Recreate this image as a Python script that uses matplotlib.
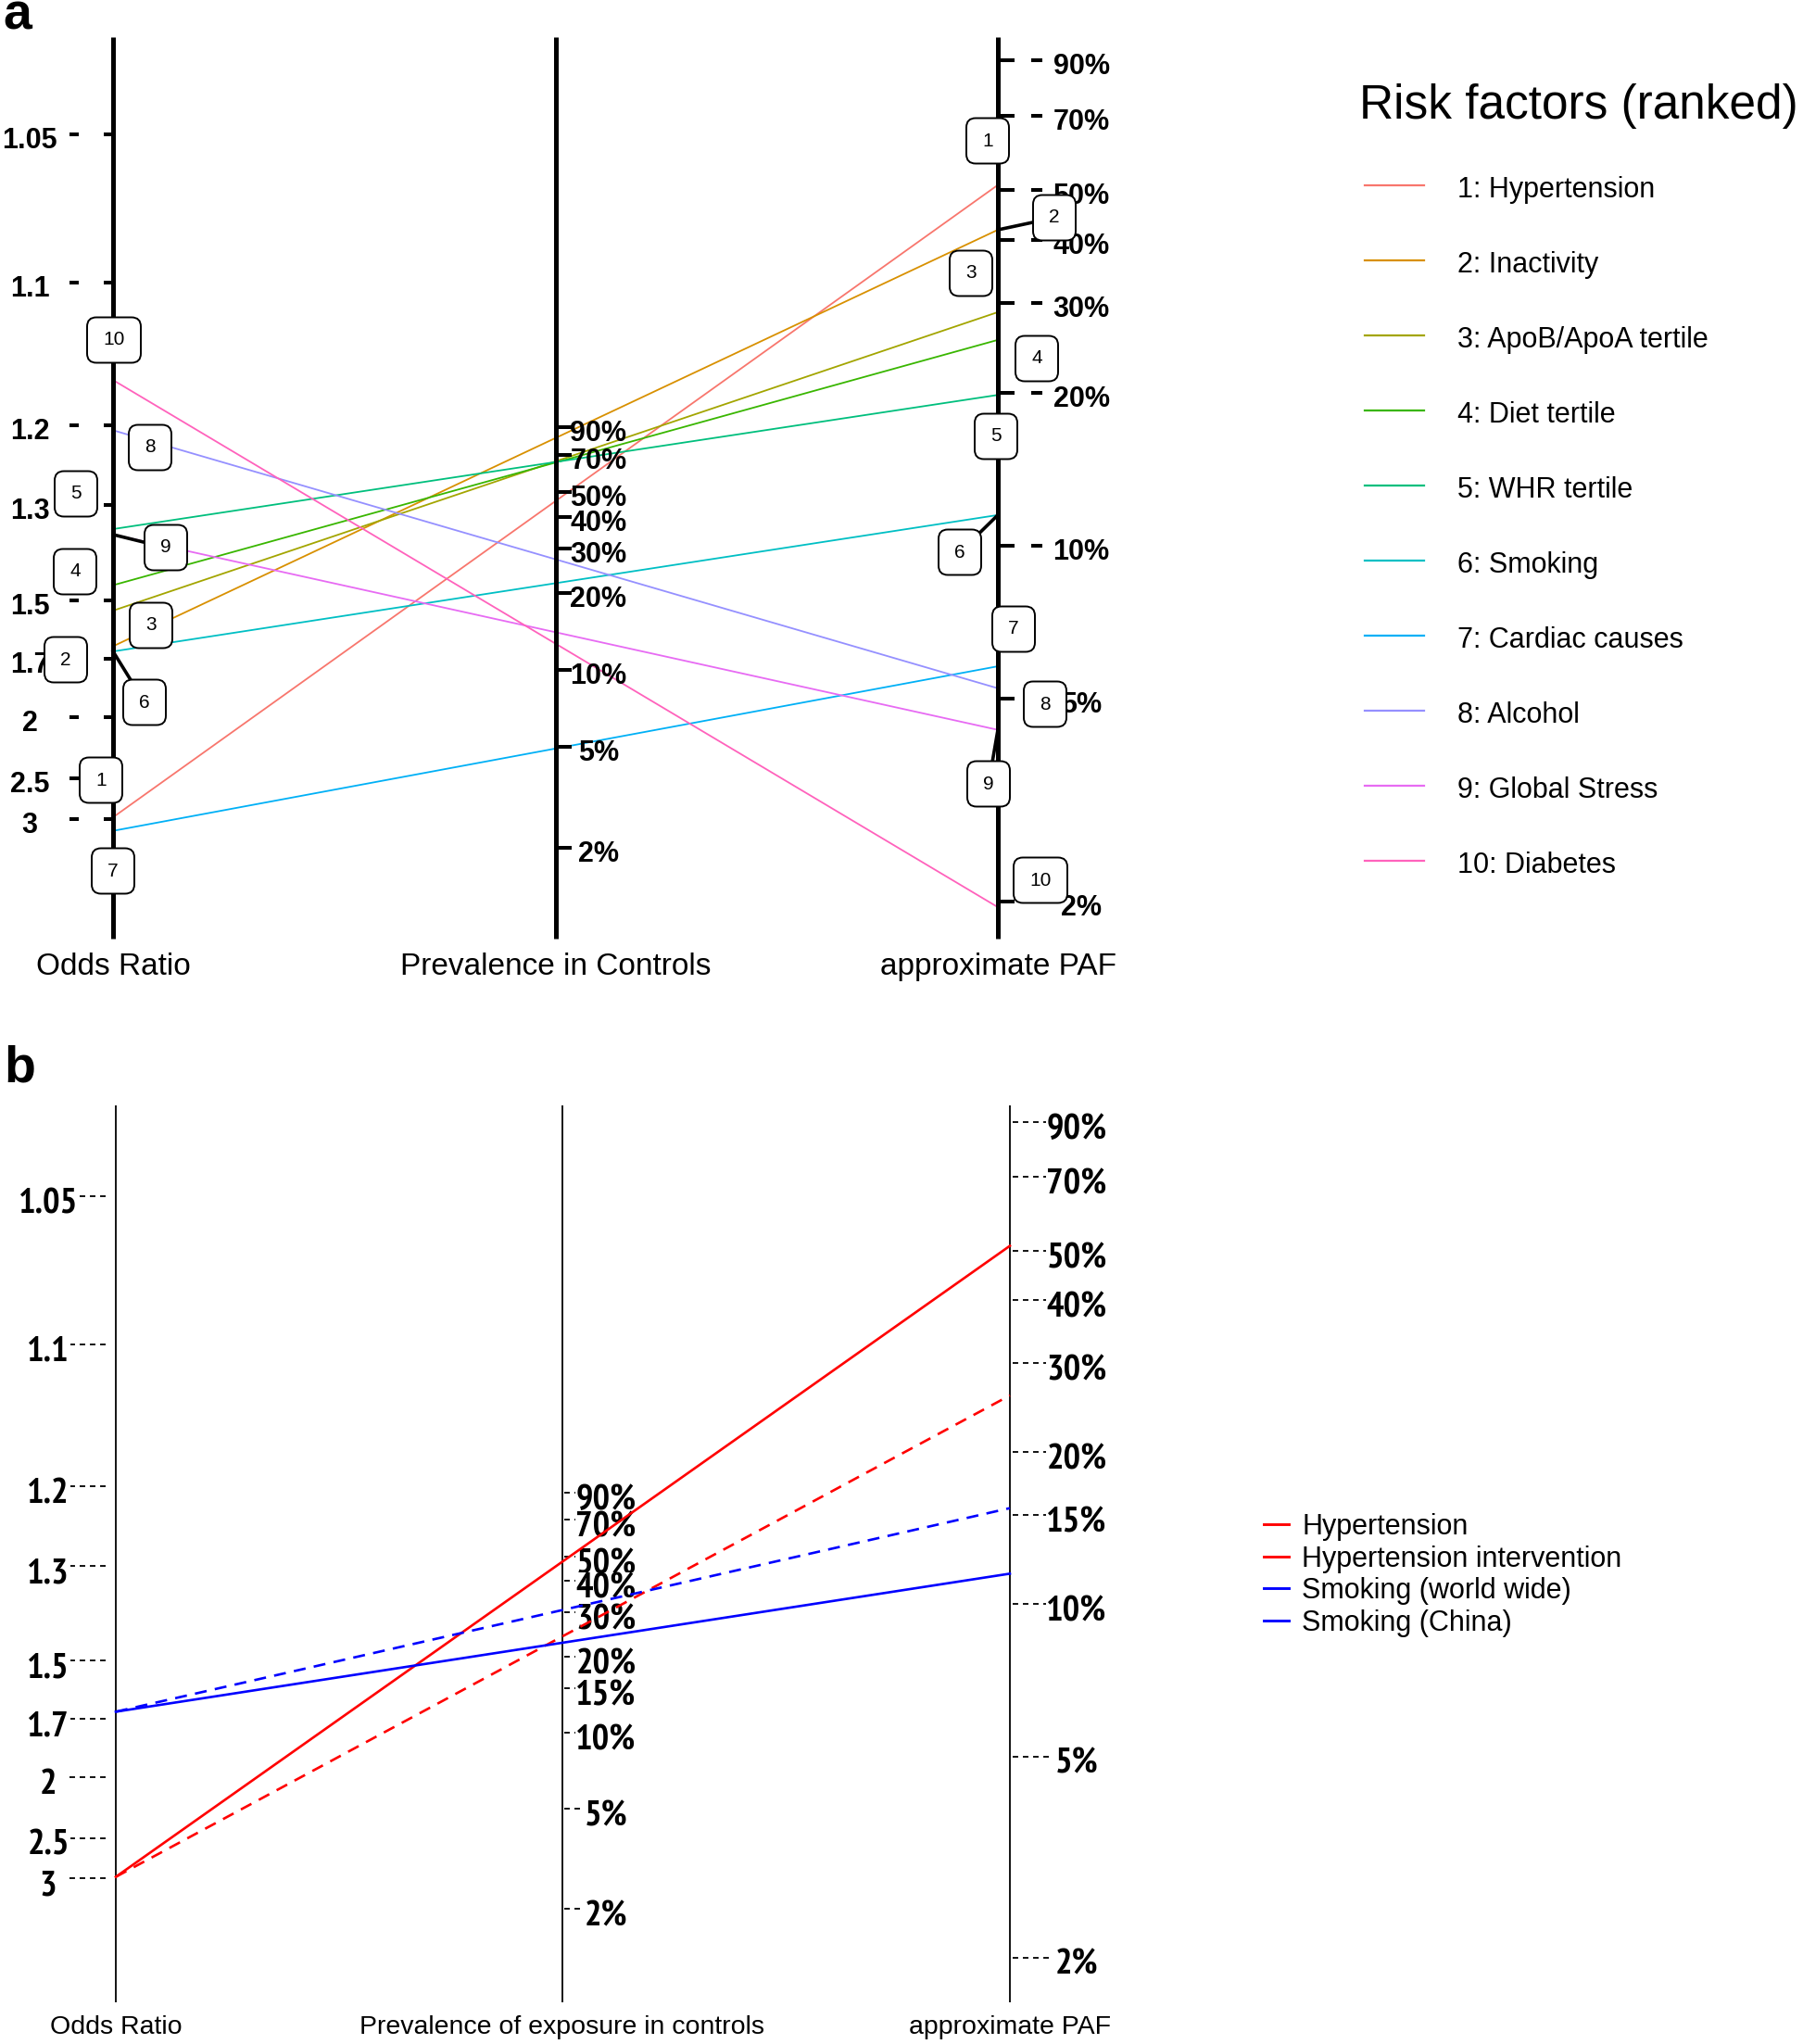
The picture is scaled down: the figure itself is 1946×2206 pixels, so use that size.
import numpy as np
import matplotlib
matplotlib.use("Agg")
import matplotlib.pyplot as plt
from matplotlib import font_manager
from matplotlib.patches import FancyBboxPatch

W, H = 1946, 2206

# ---- panel a: ranked risk factors
factors = ["Hypertension", "Inactivity", "ApoB/ApoA tertile", "Diet tertile",
           "WHR tertile", "Smoking", "Cardiac causes", "Alcohol",
           "Global Stress", "Diabetes"]
odds_ratio = [2.98, 1.65, 1.53, 1.46, 1.34, 1.67, 3.19, 1.205, 1.35, 1.16]
paf = [0.512, 0.418, 0.288, 0.254, 0.198, 0.115, 0.058, 0.0525, 0.0435, 0.0195]
colors = ["#F8766D", "#D89000", "#A3A500", "#39B600", "#00BF7D",
          "#00BFC4", "#00B0F6", "#9590FF", "#E76BF3", "#FF62BC"]

or_ticks = [1.05, 1.1, 1.2, 1.3, 1.5, 1.7, 2, 2.5, 3]
or_tick_labels = ["1.05", "1.1", "1.2", "1.3", "1.5", "1.7", "2", "2.5", "3"]
pct_ticks_a = [0.9, 0.7, 0.5, 0.4, 0.3, 0.2, 0.1, 0.05, 0.02]
pct_ticks_b = [0.9, 0.7, 0.5, 0.4, 0.3, 0.2, 0.15, 0.1, 0.05, 0.02]

# ---- panel b: scenarios
scenarios = ["Hypertension", "Hypertension intervention",
             "Smoking (world wide)", "Smoking (China)"]
scen_or = [2.98, 2.98, 1.67, 1.67]
scen_paf = [0.512, 0.259, 0.115, 0.155]
scen_color = ["#FF0000", "#FF0000", "#0000FF", "#0000FF"]
scen_dashed = [False, True, False, True]

# label box centres for panel a (layout, found by eye)
left_box = [(109, 842), (71, 712), (163, 675), (81, 617), (82, 533),
            (156, 758), (122, 940), (162, 483), (179, 591), (123, 367)]
right_box = [(1066, 152), (1138, 235), (1048, 295), (1119, 387), (1075, 471),
             (1036, 596), (1094, 679), (1128, 760), (1067, 846), (1123, 950)]
left_leader = [8, 5]
right_leader = [1, 5, 8]

# nomogram scales: (offset, pixels per log unit) for each panel
pa = dict(x=(122, 600, 1077), top=40, bottom=1013,
          orc=871.4, ors=240.3, pc=448.1, ps=119.4, fc=40.0, fs=238.5)
pb = dict(x=(125, 607, 1090), top=1193, bottom=2161,
          orc=2015.0, ors=239.3, pc=1598.2, ps=118.15, fc=1186.0, fs=236.9)


def or_y(v, p):
    v = np.asarray(v, dtype=float)
    return p["orc"] + p["ors"] * (np.log(v - 1) - 0.585 * np.log(v))


def prev_y(v, p):
    return p["pc"] - p["ps"] * np.log(np.asarray(v, dtype=float))


def paf_y(v, p):
    return p["fc"] - p["fs"] * np.log(np.asarray(v, dtype=float))


def pct(v):
    return "%g%%" % (v * 100)


def narrow_font():
    # a condensed bold face for the panel b tick labels, whatever is installed
    fonts = font_manager.fontManager.ttflist
    for f in fonts:
        if "Narrow" in f.name and f.weight in (700, "bold") and f.style == "normal":
            return font_manager.FontProperties(fname=f.fname, size=28)
    for f in fonts:
        if f.name == "DejaVu Sans" and "Condensed" in f.fname and "Bold" in f.fname \
                and "Oblique" not in f.fname:
            return font_manager.FontProperties(fname=f.fname, size=25)
    return font_manager.FontProperties(family="DejaVu Sans", weight="bold", size=23)


plt.rcParams["font.family"] = ["Liberation Sans", "DejaVu Sans"]

fig = plt.figure(figsize=(W / 100, H / 100), dpi=100)
ax = fig.add_axes([0, 0, 1, 1])
ax.set_xlim(0, W)
ax.set_ylim(H, 0)
ax.axis("off")

# ================= panel a =================
xl, xm, xr = pa["x"]
for x in pa["x"]:
    ax.plot([x, x], [pa["top"], pa["bottom"]], color="black", lw=3.6,
            solid_capstyle="butt", zorder=3)

tick_kw = dict(color="black", lw=2.9, solid_capstyle="butt", zorder=3)
lab_kw = dict(fontsize=22, fontweight="bold", va="baseline", ha="center", zorder=4)

for v, s in zip(or_ticks, or_tick_labels):
    y = or_y(v, pa)
    ax.plot([xl - 10, xl], [y, y], **tick_kw)
    ax.plot([xl - 47, xl - 37], [y, y], **tick_kw)
    ax.text(32, y + 15, s, **lab_kw)

for v in pct_ticks_a:
    y = prev_y(v, pa)
    ax.plot([xm, xm + 17], [y, y], **tick_kw)
    ax.text(xm + 46, y + 15, pct(v), **lab_kw)

for v in pct_ticks_a:
    y = paf_y(v, pa)
    ax.plot([xr, xr + 18], [y, y], **tick_kw)
    ax.plot([xr + 36, xr + 48], [y, y], **tick_kw)
    ax.text(xr + 90, y + 15, pct(v), **lab_kw)

yl = or_y(odds_ratio, pa)
yr = paf_y(paf, pa)
for i in range(len(factors)):
    ax.plot([xl, xr], [yl[i], yr[i]], color=colors[i], lw=1.3, zorder=2)


def label_box(cx, cy, s):
    w = 58 if len(s) > 1 else 46
    h = 49
    box = FancyBboxPatch((cx - w / 2, cy - h / 2), w, h,
                         boxstyle="round,pad=0,rounding_size=10",
                         fc="white", ec="black", lw=1.4, zorder=6)
    ax.add_patch(box)
    ax.text(cx, cy, s, ha="center", va="center", fontsize=15, zorder=7)


for i in left_leader:
    ax.plot([xl, left_box[i][0]], [yl[i], left_box[i][1]], color="black",
            lw=2.6, zorder=5)
for i in right_leader:
    ax.plot([xr, right_box[i][0]], [yr[i], right_box[i][1]], color="black",
            lw=2.6, zorder=5)
for i in range(len(factors)):
    label_box(left_box[i][0], left_box[i][1], str(i + 1))
    label_box(right_box[i][0], right_box[i][1], str(i + 1))

ax.text(xl, 1052, "Odds Ratio", ha="center", va="baseline", fontsize=24)
ax.text(xm, 1052, "Prevalence in Controls", ha="center", va="baseline", fontsize=24)
ax.text(xr, 1052, "approximate PAF", ha="center", va="baseline", fontsize=24)

# legend a
ax.text(1467, 128, "Risk factors (ranked)", ha="left", va="baseline", fontsize=37)
for i, name in enumerate(factors):
    y = 200 + 81 * i
    ax.plot([1473, 1537], [y, y], color=colors[i], lw=1.6)
    ax.text(1573, y + 13, "%d: %s" % (i + 1, name), ha="left", va="baseline",
            fontsize=22)

ax.text(3, 32, "a", fontsize=40, fontweight="bold", va="baseline")

# ================= panel b =================
xl, xm, xr = pb["x"]
for x in pb["x"]:
    ax.plot([x, x], [pb["top"], pb["bottom"]], color="black", lw=1.3,
            solid_capstyle="butt", zorder=3)

nf = narrow_font()
dash_kw = dict(color="black", lw=1.3, ls=(0, (3.3, 2.8)), zorder=3)
blab_kw = dict(va="baseline", ha="center", zorder=4, fontproperties=nf,
               bbox=dict(fc="white", ec="none", pad=0.5))

for v, s in zip(or_ticks, or_tick_labels):
    y = or_y(v, pb)
    ax.plot([xl - 50, xl - 7], [y, y], **dash_kw)
    ax.text(xl - 73, y + 18, s, **blab_kw)

for v in pct_ticks_b:
    y = prev_y(v, pb)
    ax.plot([xm + 2, xm + 30], [y, y], **dash_kw)
    ax.text(xm + 47, y + 18, pct(v), **blab_kw)

for v in pct_ticks_b:
    y = paf_y(v, pb)
    ax.plot([xr + 3, xr + 42], [y, y], **dash_kw)
    ax.text(xr + 72, y + 18, pct(v), **blab_kw)

yl = or_y(scen_or, pb)
yr = paf_y(scen_paf, pb)
for i in range(len(scenarios)):
    ls = (0, (4.9, 3.4)) if scen_dashed[i] else "-"
    ax.plot([xl, xr], [yl[i], yr[i]], color=scen_color[i], lw=1.9, ls=ls, zorder=5)

ax.text(xl, 2195, "Odds Ratio", ha="center", va="baseline", fontsize=20.5)
ax.text(xm, 2195, "Prevalence of exposure in controls", ha="center",
        va="baseline", fontsize=20.5)
ax.text(xr, 2195, "approximate PAF", ha="center", va="baseline", fontsize=20.5)

for i, name in enumerate(scenarios):
    y = 1645 + 34.6 * i
    ax.plot([1364, 1391], [y, y], color=scen_color[i], lw=2.1)
    ax.text(1405, y + 11, name, ha="left", va="baseline", fontsize=22)

ax.text(4, 1168, "b", fontsize=40, fontweight="bold", va="baseline")

fig.savefig("out.png", dpi=100)
